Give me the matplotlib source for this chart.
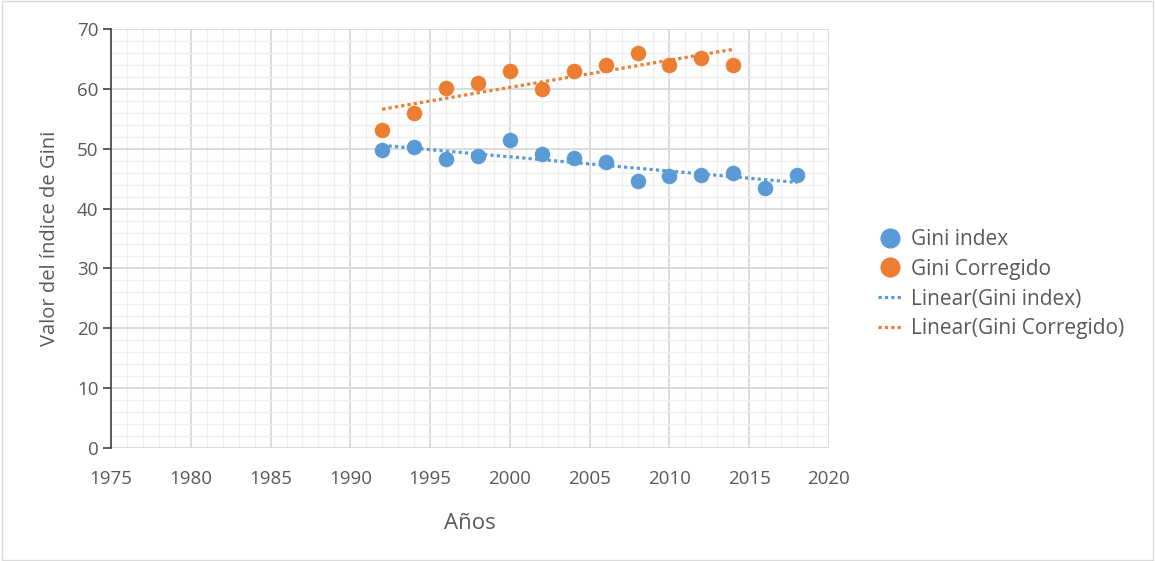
import numpy as np
import matplotlib
matplotlib.use("Agg")
import matplotlib.pyplot as plt
from matplotlib.ticker import MultipleLocator
from matplotlib.patches import Rectangle
from matplotlib.lines import Line2D

plt.rcParams['font.family'] = ['Open Sans', 'DejaVu Sans']

years_gini = [1992, 1994, 1996, 1998, 2000, 2002, 2004, 2006, 2008, 2010, 2012, 2014, 2016, 2018]
gini_index = [49.8, 50.3, 48.2, 48.8, 51.4, 49.1, 48.4, 47.8, 44.6, 45.4, 45.6, 46.0, 43.4, 45.6]
years_corr = [1992, 1994, 1996, 1998, 2000, 2002, 2004, 2006, 2008, 2010, 2012, 2014]
gini_corr = [53.1, 56.0, 60.1, 61.0, 63.0, 60.0, 63.0, 64.0, 66.0, 64.0, 65.1, 64.0]

blue = '#5B9BD5'
orange = '#ED7D31'
txt = '#595959'

fig = plt.figure(figsize=(11.55, 5.61), dpi=100)
ax = fig.add_axes([111/1155, 1-448/561, (829-111)/1155, (448-29)/561])

ax.set_xlim(1975, 2020)
ax.set_ylim(0, 70)
ax.xaxis.set_major_locator(MultipleLocator(5))
ax.xaxis.set_minor_locator(MultipleLocator(1))
ax.yaxis.set_major_locator(MultipleLocator(10))
ax.yaxis.set_minor_locator(MultipleLocator(2))
ax.grid(which='major', color='#d9d9d9', lw=1.3, zorder=0)
ax.grid(which='minor', color='#eeeeee', lw=0.9, zorder=0)
ax.set_axisbelow(True)

for s in ['top', 'right', 'bottom']:
    ax.spines[s].set_visible(False)
ax.spines['left'].set_color('#404040')
ax.spines['left'].set_linewidth(1.2)

ax.tick_params(axis='y', which='major', length=6, width=1.2, color='#404040',
               labelsize=13.5, labelcolor=txt, pad=3)
ax.tick_params(axis='y', which='minor', length=0)
ax.tick_params(axis='x', which='both', length=0, labelsize=13.5, labelcolor=txt, pad=16)

# trend lines (least-squares fit of each series)
p1 = np.polyfit(years_gini, gini_index, 1)
p2 = np.polyfit(years_corr, gini_corr, 1)
xg = np.array([years_gini[0], years_gini[-1]])
xc = np.array([years_corr[0], years_corr[-1]])
ax.plot(xg, np.polyval(p1, xg), color=blue, lw=2.3, ls=(0, (1, 1)), zorder=3)
ax.plot(xc, np.polyval(p2, xc), color=orange, lw=2.3, ls=(0, (1, 1)), zorder=3)

ax.scatter(years_gini, gini_index, s=125, color=blue, zorder=4, linewidths=0)
ax.scatter(years_corr, gini_corr, s=125, color=orange, zorder=4, linewidths=0)

ax.set_xlabel('Años', fontsize=16, color=txt, labelpad=18)
ax.set_ylabel('Valor del índice de Gini', fontsize=14.5, color=txt, labelpad=12)

handles = [
    Line2D([], [], marker='o', ls='none', color=blue, markersize=13.5),
    Line2D([], [], marker='o', ls='none', color=orange, markersize=13.5),
    Line2D([], [], color=blue, lw=2.3, ls=(0, (1, 1))),
    Line2D([], [], color=orange, lw=2.3, ls=(0, (1, 1))),
]
labels = ['Gini index', 'Gini Corregido', 'Linear(Gini index)', 'Linear(Gini Corregido)']
leg = fig.legend(handles, labels, loc='upper left', bbox_to_anchor=(878/1155, 1-229/561),
                 frameon=False, fontsize=15, labelcolor=txt, handlelength=1.15,
                 handletextpad=0.45, labelspacing=0.42, borderpad=0, borderaxespad=0)

fig.patches.append(Rectangle((0.002, 0.002), 0.996, 0.996, transform=fig.transFigure,
                             fill=False, edgecolor='#d9d9d9', lw=1))

fig.savefig('out.png', dpi=100)
